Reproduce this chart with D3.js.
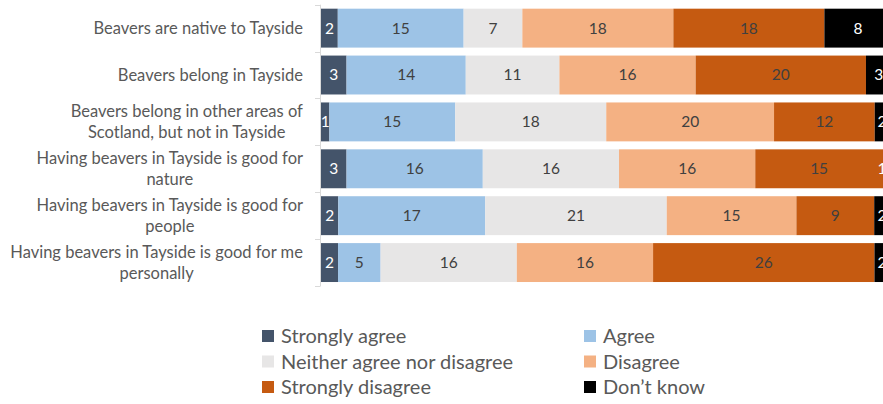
<!DOCTYPE html>
<html>
<head>
<meta charset="utf-8">
<script src="https://cdn.jsdelivr.net/npm/d3@7/dist/d3.min.js"></script>
<style>
  body { margin: 0; background: #fff; }
  svg text { font-family: Lato, "Open Sans", sans-serif; }
</style>
</head>
<body>
<div id="chart"></div>
<script>
// Survey statements (each entry = lines of the wrapped label)
const categories = [
  ["Beavers are native to Tayside"],
  ["Beavers belong in Tayside"],
  ["Beavers belong in other areas of", "Scotland, but not in Tayside"],
  ["Having beavers in Tayside is good for", "nature"],
  ["Having beavers in Tayside is good for", "people"],
  ["Having beavers in Tayside is good for me", "personally"]
];

const seriesNames = ["Strongly agree", "Agree", "Neither agree nor disagree",
                     "Disagree", "Strongly disagree", "Don\u2019t know"];
const seriesColors = ["#44546A", "#9DC3E6", "#E7E6E6", "#F4B183", "#C55A11", "#000000"];
const labelColors = ["#ffffff", "#404040", "#404040", "#404040", "#404040", "#ffffff"];

// counts per statement
const stronglyAgree    = [2, 3, 1, 3, 2, 2];
const agree            = [15, 14, 15, 16, 17, 5];
const neither          = [7, 11, 18, 16, 21, 16];
const disagree         = [18, 16, 20, 16, 15, 16];
const stronglyDisagree = [18, 20, 12, 15, 9, 26];
const dontKnow         = [8, 3, 2, 1, 2, 2];

const seriesValues = [stronglyAgree, agree, neither, disagree, stronglyDisagree, dontKnow];

// build rows for d3.stack
const rows = categories.map((c, i) => {
  const r = { idx: i };
  seriesNames.forEach((s, j) => { r[s] = seriesValues[j][i]; });
  return r;
});

const svgWidth = 883, svgHeight = 404;
const svg = d3.select("#chart")
  .append("svg")
  .attr("width", svgWidth)
  .attr("height", svgHeight);

// 100% stacked: plot area runs past the right edge of the picture
const x = d3.scaleLinear().domain([0, 1]).range([321, 891.5]);
const y = d3.scaleBand()
  .domain(d3.range(categories.length))
  .range([4.7, 286])
  .paddingInner(0.17)
  .paddingOuter(0.085);

const stacked = d3.stack()
  .keys(seriesNames)
  .offset(d3.stackOffsetExpand)(rows);

// Bars
const groups = svg.selectAll(".series")
  .data(stacked)
  .enter()
  .append("g")
  .attr("class", "series")
  .attr("fill", (d, i) => seriesColors[i]);

groups.selectAll("rect")
  .data(d => d)
  .enter()
  .append("rect")
  .attr("x", d => x(d[0]))
  .attr("y", d => y(d.data.idx))
  .attr("width", d => x(d[1]) - x(d[0]))
  .attr("height", y.bandwidth());

// Data labels (kept inside the chart area like Excel does)
const labelMaxX = 882;
groups.each(function (s, i) {
  d3.select(this).selectAll("text")
    .data(s)
    .enter()
    .append("text")
    .attr("x", d => Math.min((x(d[0]) + x(d[1])) / 2, labelMaxX))
    .attr("y", d => y(d.data.idx) + y.bandwidth() / 2)
    .attr("dy", "0.35em")
    .attr("text-anchor", "middle")
    .attr("fill", labelColors[i])
    .style("font-size", "15.5px")
    .text(d => d.data[s.key]);
});

// Vertical axis line with ticks between categories
const axisColor = "#D9D9D9";
const boundaries = d3.range(categories.length + 1)
  .map(i => y.range()[0] + i * y.step());

svg.append("line")
  .attr("x1", 320.5).attr("x2", 320.5)
  .attr("y1", boundaries[0]).attr("y2", boundaries[boundaries.length - 1])
  .attr("stroke", axisColor);

svg.selectAll(".tick")
  .data(boundaries)
  .enter()
  .append("line")
  .attr("class", "tick")
  .attr("x1", 315).attr("x2", 320.5)
  .attr("y1", d => Math.round(d) + 0.5)
  .attr("y2", d => Math.round(d) + 0.5)
  .attr("stroke", axisColor);

// Category labels, lines centred on each other, block right-aligned
const lineH = 21.5;
categories.forEach((lines, i) => {
  const cy = y(i) + y.bandwidth() / 2;
  const t = svg.append("text")
    .attr("fill", "#595959")
    .style("font-size", "16.5px")
    .attr("text-anchor", "middle");
  lines.forEach((ln, k) => {
    t.append("tspan")
      .attr("x", 0)
      .attr("y", cy + (k - (lines.length - 1) / 2) * lineH)
      .attr("dy", "0.35em")
      .text(ln);
  });
  // shift so the widest line ends at x = 303
  const w = t.node().getBBox().width;
  t.selectAll("tspan").attr("x", 303 - w / 2);
});

// Legend
const legend = svg.append("g");
const legendCols = [262, 584];
const legendRows = [336, 361.5, 387];
seriesNames.forEach((name, i) => {
  const lx = legendCols[i % 2];
  const ly = legendRows[Math.floor(i / 2)];
  legend.append("rect")
    .attr("x", lx)
    .attr("y", ly - 6)
    .attr("width", 12)
    .attr("height", 12)
    .attr("fill", seriesColors[i]);
  legend.append("text")
    .attr("x", lx + 19)
    .attr("y", ly)
    .attr("dy", "0.35em")
    .attr("fill", "#595959")
    .style("font-size", "20px")
    .text(name);
});
</script>
</body>
</html>
